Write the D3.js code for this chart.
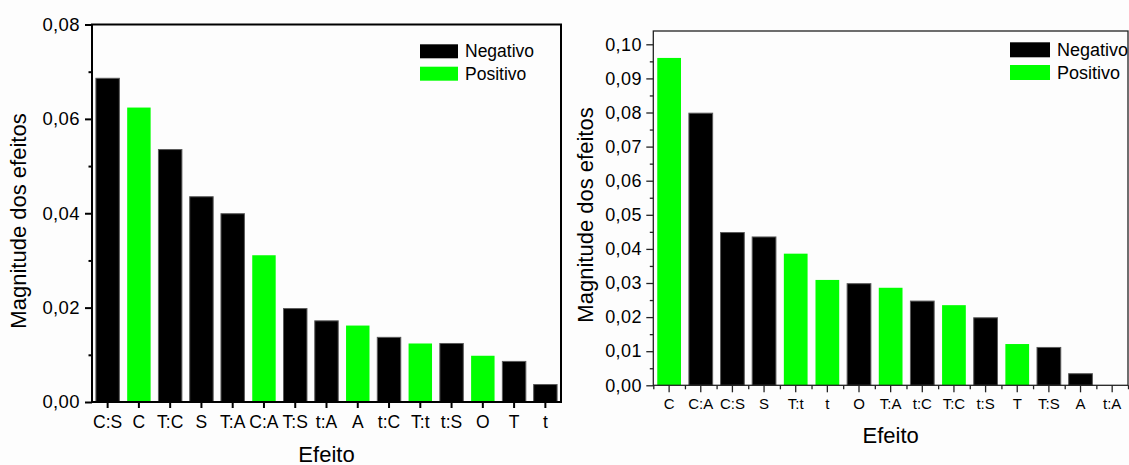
<!DOCTYPE html>
<html>
<head>
<meta charset="utf-8">
<script src="https://cdn.jsdelivr.net/npm/d3@7/dist/d3.min.js"></script>
<style>
  html, body { margin: 0; padding: 0; background: #fdfdfd; }
  svg { display: block; font-family: "Liberation Sans", Arial, sans-serif; }
</style>
</head>
<body>
<svg id="chart" width="1129" height="465"></svg>
<script>
// Left panel: effect magnitudes, ordered from largest to smallest
const effectsA = ["C:S", "C", "T:C", "S", "T:A", "C:A", "T:S", "t:A", "A", "t:C", "T:t", "t:S", "O", "T", "t"];
const valuesA  = [0.0686, 0.0624, 0.0535, 0.0435, 0.0399, 0.0311, 0.0198, 0.0172, 0.0162, 0.0137, 0.0124, 0.0124, 0.0098, 0.0086, 0.0037];
const signsA   = ["Negativo", "Positivo", "Negativo", "Negativo", "Negativo", "Positivo", "Negativo", "Negativo", "Positivo", "Negativo", "Positivo", "Negativo", "Positivo", "Negativo", "Negativo"];
const yTicksA  = [0, 0.02, 0.04, 0.06, 0.08];
const yMinorA  = [0.01, 0.03, 0.05, 0.07];

// Right panel
const effectsB = ["C", "C:A", "C:S", "S", "T:t", "t", "O", "T:A", "t:C", "T:C", "t:S", "T", "T:S", "A", "t:A"];
const valuesB  = [0.0960, 0.0798, 0.0448, 0.0435, 0.0386, 0.0309, 0.0298, 0.0286, 0.0247, 0.0235, 0.0198, 0.0121, 0.0111, 0.0034, 0.0];
const signsB   = ["Positivo", "Negativo", "Negativo", "Negativo", "Positivo", "Positivo", "Negativo", "Positivo", "Negativo", "Positivo", "Negativo", "Positivo", "Negativo", "Negativo", "Negativo"];
const yTicksB  = [0, 0.01, 0.02, 0.03, 0.04, 0.05, 0.06, 0.07, 0.08, 0.09, 0.10];
const yMinorB  = [0.005, 0.015, 0.025, 0.035, 0.045, 0.055, 0.065, 0.075, 0.085, 0.095];

const legendKeys = ["Negativo", "Positivo"];
const colorOf = d3.scaleOrdinal().domain(legendKeys).range(["#000000", "#00ff00"]);
const fmt = v => d3.format(".2f")(v).replace(".", ",");

const svg = d3.select("#chart");

function drawPanel(p) {
  const g = svg.append("g");
  const x = d3.scaleBand().domain(p.effects).range([p.left, p.right]).padding(0);
  const y = d3.scaleLinear().domain([0, p.yMax]).range([p.bottom, p.top]);
  const bw = x.bandwidth() * 0.75;

  // bars
  g.append("g").selectAll("rect")
    .data(p.effects.map((e, i) => ({ e, v: p.values[i], s: p.signs[i] })))
    .join("rect")
    .attr("x", d => x(d.e) + (x.bandwidth() - bw) / 2)
    .attr("width", bw)
    .attr("y", d => y(d.v))
    .attr("height", d => y(0) - y(d.v))
    .attr("fill", d => colorOf(d.s))
    .attr("stroke", d => d.s === "Negativo" ? "#5a5a5a" : "none")
    .attr("stroke-width", 1);

  // frame
  g.append("rect")
    .attr("x", p.left).attr("y", p.top)
    .attr("width", p.right - p.left).attr("height", p.bottom - p.top)
    .attr("fill", "none").attr("stroke", p.axisColor).attr("stroke-width", p.lineW);

  // y axis (major + minor)
  const yAx = g.append("g").attr("transform", `translate(${p.left},0)`)
    .call(d3.axisLeft(y).tickValues(p.yTicks).tickFormat(fmt).tickSize(7).tickPadding(p.yPad));
  const yMin = g.append("g").attr("transform", `translate(${p.left},0)`)
    .call(d3.axisLeft(y).tickValues(p.yMinor).tickFormat("").tickSize(3.5));

  // x axis (major ticks at category centres)
  const xAx = g.append("g").attr("transform", `translate(0,${p.bottom})`)
    .call(d3.axisBottom(x).tickSize(p.xTick).tickPadding(p.xPad));
  xAx.selectAll("text").style("font-size", p.xFont + "px");

  [yAx, yMin, xAx].forEach(a => {
    a.select(".domain").remove();
    a.selectAll("line").attr("stroke", p.axisColor).attr("stroke-width", p.lineW);
    a.selectAll("text").attr("fill", "#000");
  });
  yAx.selectAll("text").style("font-size", p.yFont + "px").style("letter-spacing", "0.4px");

  if (p.minorX) {
    const xe = d3.scaleLinear().domain([0, p.effects.length]).range([p.left, p.right]);
    const xm = g.append("g").attr("transform", `translate(0,${p.bottom})`)
      .call(d3.axisBottom(xe).tickValues(d3.range(0, p.effects.length + 1)).tickFormat("").tickSize(4));
    xm.select(".domain").remove();
    xm.selectAll("line").attr("stroke", p.axisColor).attr("stroke-width", p.lineW);
  }

  // axis titles
  g.append("text")
    .attr("transform", `translate(${p.yTitleX},${p.yTitleY}) rotate(-90)`)
    .attr("text-anchor", "middle").attr("dy", "0.35em")
    .style("font-size", p.titleFont + "px")
    .text("Magnitude dos efeitos");
  g.append("text")
    .attr("x", (p.left + p.right) / 2).attr("y", p.xTitleY)
    .attr("text-anchor", "middle")
    .style("font-size", p.titleFont + "px")
    .text("Efeito");

  // legend
  const lg = g.append("g");
  legendKeys.forEach((k, i) => {
    lg.append("rect")
      .attr("x", p.legX).attr("y", p.legY + i * p.legStep)
      .attr("width", p.legW).attr("height", p.legH)
      .attr("fill", colorOf(k));
    lg.append("text")
      .attr("x", p.legX + p.legW + 7).attr("y", p.legY + i * p.legStep + p.legH - 1)
      .style("font-size", p.legFont + "px")
      .text(k);
  });
}

drawPanel({
  effects: effectsA, values: valuesA, signs: signsA,
  yTicks: yTicksA, yMinor: yMinorA, yMax: 0.08,
  left: 92, right: 561, top: 24.5, bottom: 402,
  axisColor: "#000", lineW: 2, yPad: 5, yFont: 18.5,
  xTick: 6, xPad: 8, xFont: 17.5, minorX: false,
  yTitleX: 18, yTitleY: 221, xTitleY: 461.5, titleFont: 22,
  legX: 420, legY: 44.3, legW: 38, legH: 14, legStep: 22.4, legFont: 17.5
});

drawPanel({
  effects: effectsB, values: valuesB, signs: signsB,
  yTicks: yTicksB, yMinor: yMinorB, yMax: 0.1039,
  left: 653.3, right: 1128, top: 31, bottom: 385.3,
  axisColor: "#222", lineW: 1.3, yPad: 4.5, yFont: 18,
  xTick: 7, xPad: 6, xFont: 15, minorX: true,
  yTitleX: 585, yTitleY: 215, xTitleY: 443.3, titleFont: 22,
  legX: 1010, legY: 42.3, legW: 40, legH: 15, legStep: 22.7, legFont: 18
});
</script>
</body>
</html>
